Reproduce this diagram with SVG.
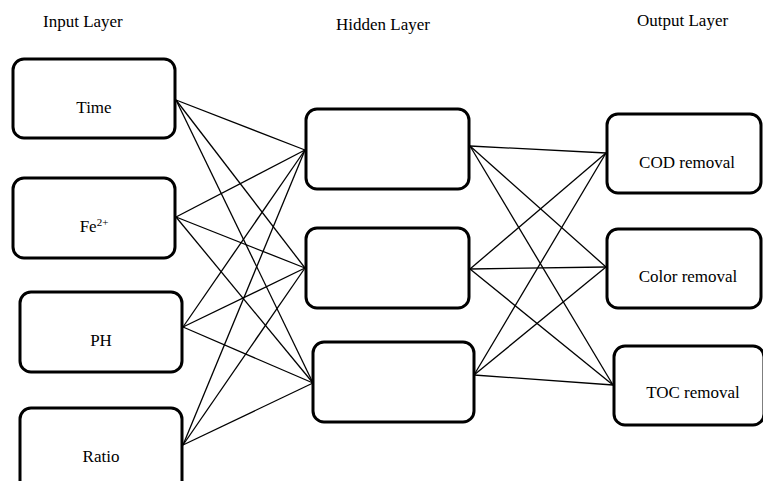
<svg xmlns="http://www.w3.org/2000/svg" width="763" height="481" viewBox="0 0 763 481">
<style>
.box{fill:#fff;stroke:#000;stroke-width:3}
.t{font-family:"Liberation Serif","Times New Roman",serif;font-size:17px;fill:#000;text-anchor:middle}
.h{font-family:"Liberation Serif","Times New Roman",serif;font-size:17px;fill:#000}
#connectors line{stroke:#000;stroke-width:1.3}
</style>
<rect width="763" height="481" fill="#fff"/>
<text class="h" x="43" y="27">Input Layer</text>
<text class="h" x="336" y="30">Hidden Layer</text>
<text class="h" x="637" y="26">Output Layer</text>
<g id="connectors">
<line x1="176" y1="100" x2="305" y2="150"/>
<line x1="176" y1="100" x2="305" y2="268"/>
<line x1="176" y1="100" x2="313" y2="383"/>
<line x1="176" y1="217" x2="305" y2="150"/>
<line x1="176" y1="217" x2="305" y2="268"/>
<line x1="176" y1="217" x2="313" y2="383"/>
<line x1="183" y1="327" x2="305" y2="150"/>
<line x1="183" y1="327" x2="305" y2="268"/>
<line x1="183" y1="327" x2="313" y2="383"/>
<line x1="183" y1="445" x2="305" y2="150"/>
<line x1="183" y1="445" x2="305" y2="268"/>
<line x1="183" y1="445" x2="313" y2="383"/>
<line x1="470" y1="146" x2="606" y2="153"/>
<line x1="470" y1="146" x2="606" y2="267"/>
<line x1="470" y1="146" x2="613" y2="385"/>
<line x1="470" y1="269" x2="606" y2="153"/>
<line x1="470" y1="269" x2="606" y2="267"/>
<line x1="470" y1="269" x2="613" y2="385"/>
<line x1="474" y1="375" x2="606" y2="153"/>
<line x1="474" y1="375" x2="606" y2="267"/>
<line x1="474" y1="375" x2="613" y2="385"/>
</g>
<g id="in-time"><rect class="box" x="13" y="59" width="162" height="79" rx="11"/><text class="t" x="94" y="113">Time</text></g>
<g id="in-fe"><rect class="box" x="13" y="178" width="162" height="80" rx="11"/><text class="t" x="94" y="232">Fe<tspan font-size="11" dy="-6">2+</tspan></text></g>
<g id="in-ph"><rect class="box" x="20" y="292" width="162" height="80" rx="11"/><text class="t" x="101" y="346">PH</text></g>
<g id="in-ratio"><rect class="box" x="20" y="408" width="162" height="90" rx="11"/><text class="t" x="101" y="462">Ratio</text></g>
<g id="hid-1"><rect class="box" x="306" y="109" width="163" height="80" rx="11"/></g>
<g id="hid-2"><rect class="box" x="306" y="228" width="163" height="80" rx="11"/></g>
<g id="hid-3"><rect class="box" x="313" y="342" width="161" height="80" rx="11"/></g>
<g id="out-cod"><rect class="box" x="607" y="114" width="154" height="79" rx="11"/><text class="t" x="687" y="168">COD removal</text></g>
<g id="out-color"><rect class="box" x="607" y="229" width="154" height="79" rx="11"/><text class="t" x="688" y="282">Color removal</text></g>
<g id="out-toc"><rect class="box" x="614" y="346" width="150" height="79" rx="11"/><text class="t" x="693" y="398">TOC removal</text></g>
</svg>
